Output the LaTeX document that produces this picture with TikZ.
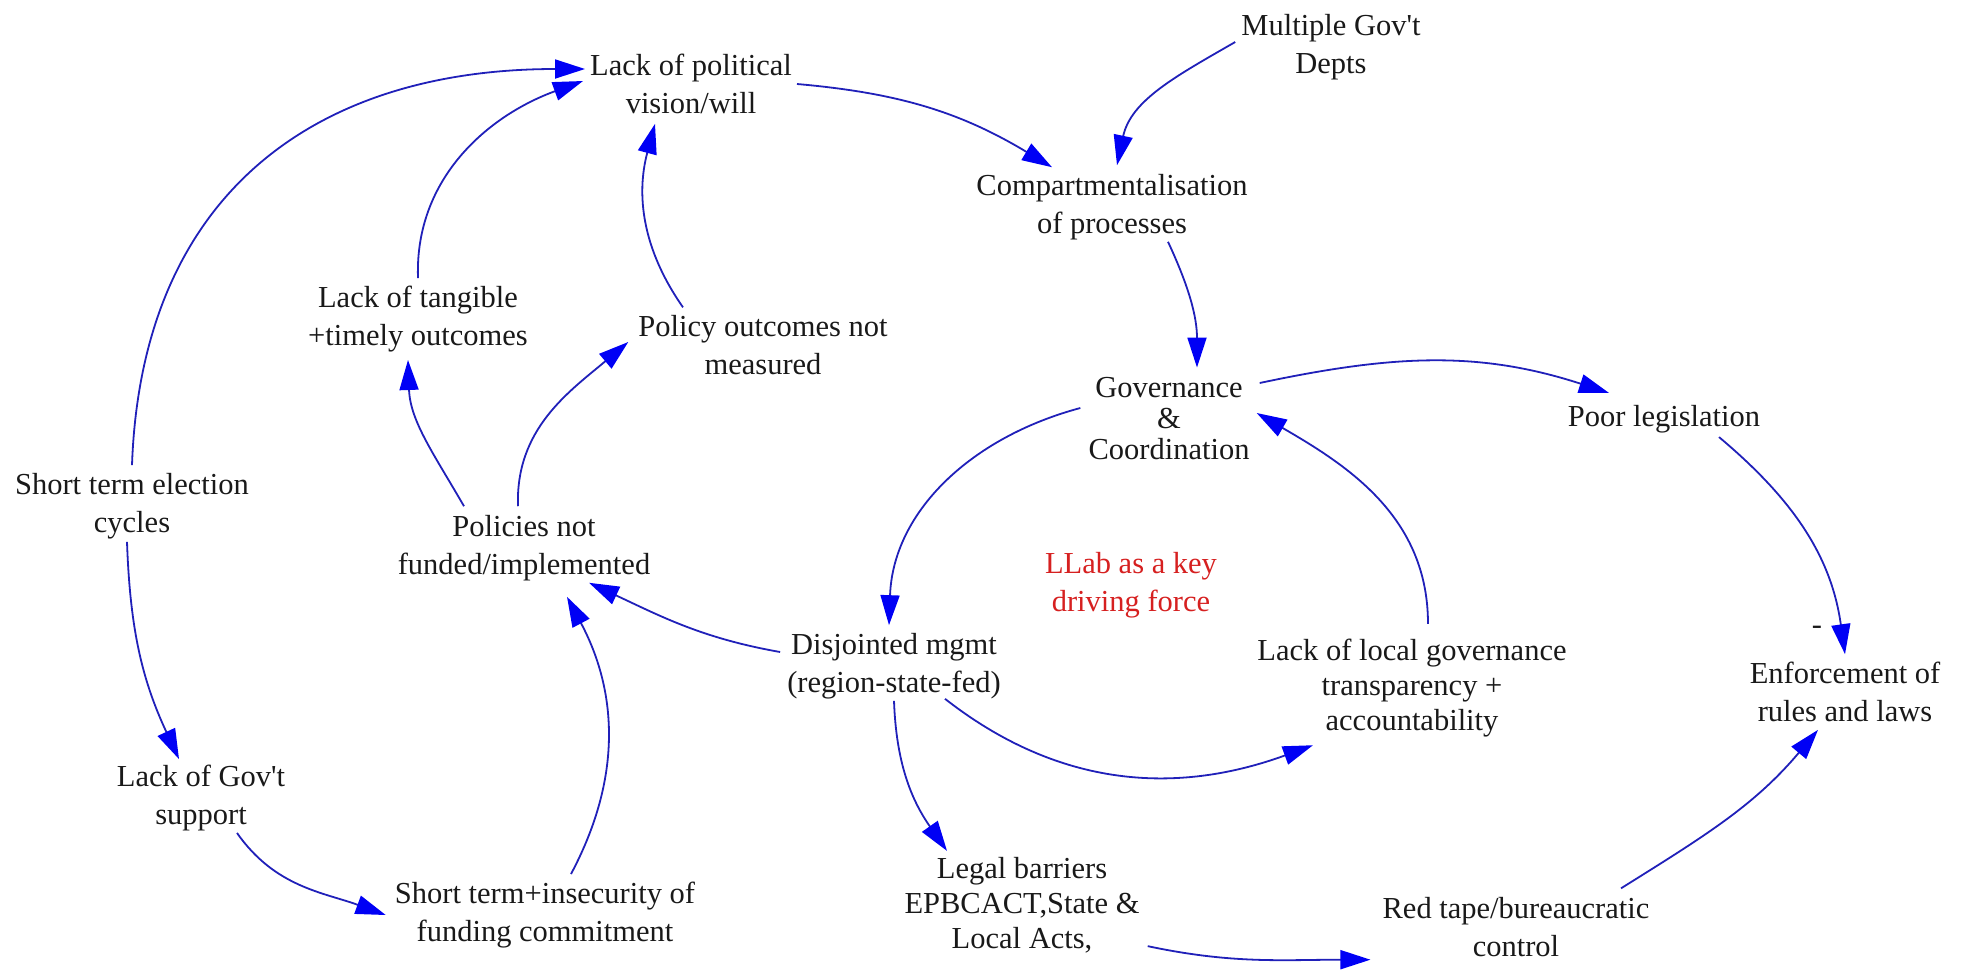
\documentclass[tikz,border=0pt]{standalone}
\usepackage{fontspec}
\setmainfont{Liberation Serif}[Ligatures=TeXOff]
\usetikzlibrary{arrows.meta}
\definecolor{linkblue}{RGB}{32,32,185}
\definecolor{tipblue}{RGB}{0,0,245}
\definecolor{notered}{RGB}{214,32,32}

\begin{document}
\begin{tikzpicture}[x=1pt, y=-1pt,
  lbl/.style={align=center, inner sep=0pt, text=black!90,
              font=\fontsize{30.5}{37.5}\selectfont},
  tight/.style={font=\fontsize{30.5}{31}\selectfont},
  mid/.style={font=\fontsize{30.5}{35}\selectfont},
  link/.style={draw=linkblue, line width=1.8pt,
               -{Triangle[length=30pt, width=19pt, color=tipblue]}}
]
\useasboundingbox (0,0) rectangle (1968,970);

% variables of the causal loop diagram
\node[lbl] (pol)    at (691, 84)   {Lack of political\\vision/will};
\node[lbl] (mult)   at (1331, 47)  {Multiple Gov't\\Depts};
\node[lbl] (comp)   at (1112, 207) {Compartmentalisation\\of processes};
\node[lbl] (tang)   at (418, 319)  {Lack of tangible\\+timely outcomes};
\node[lbl] (meas)   at (763, 345)  {Policy outcomes not\\measured};
\node[lbl, tight] (gov) at (1169, 419) {Governance\\\&\\Coordination};
\node[lbl] (poor)   at (1664, 419) {Poor legislation};
\node[lbl] (elect)  at (132, 506)  {Short term election\\cycles};
\node[lbl] (polnf)  at (524, 548)  {Policies not\\funded/implemented};
\node[lbl, text=notered] (llab) at (1131, 585) {LLab as a key\\driving force};
\node[lbl] (disj)   at (894, 666)  {Disjointed mgmt\\(region-state-fed)};
\node[lbl, mid] (local) at (1412, 688) {Lack of local governance\\transparency +\\accountability};
\node[lbl] (minus)  at (1817, 630) {-};
\node[lbl] (enf)    at (1845, 692) {Enforcement of\\rules and laws};
\node[lbl] (govsup) at (201, 798)  {Lack of Gov't\\support};
\node[lbl] (insec)  at (545, 915)  {Short term+insecurity of\\funding commitment};
\node[lbl, mid] (legal) at (1022, 905) {Legal barriers\\EPBCACT,State \&\\Local Acts,};
\node[lbl] (red)    at (1516, 927) {Red tape/bureaucratic\\control};

% causal links
\draw[link] ([yshift=8pt]elect.north) to[out=88, in=180, looseness=1.15]
            ([xshift=-5pt, yshift=15pt]pol.west);
\draw[link] ([yshift=8pt]tang.north) to[out=92, in=200]
            ([xshift=-7pt, yshift=3pt]pol.west);
\draw[link] ([xshift=-80pt, yshift=8pt]meas.north) to[out=125, in=255]
            ([xshift=-36pt, yshift=-10pt]pol.south);
\draw[link] ([xshift=5pt]pol.east) to[out=-5, in=149]
            ([xshift=-60pt, yshift=7pt]comp.north);
\draw[link] ([xshift=-6pt, yshift=5pt]mult.west) to[out=210, in=78]
            ([xshift=5pt, yshift=9pt]comp.north);
\draw[link] ([xshift=56pt, yshift=-2pt]comp.south) to[out=-65, in=90]
            ([xshift=28pt, yshift=10pt]gov.north);
\draw[link] ([xshift=10pt, yshift=36pt]gov.east) to[out=12, in=162]
            ([xshift=-55pt, yshift=12pt]poor.north);
\draw[link] ([xshift=-8pt, yshift=11pt]gov.west) to[out=195, in=88]
            ([xshift=-5pt, yshift=8pt]disj.north);
\draw[link] ([xshift=16pt, yshift=15pt]local.north) to[out=90, in=-30]
            ([xshift=7pt, yshift=6pt]gov.east);
\draw[link] ([xshift=55pt, yshift=-4pt]poor.south) to[out=-40, in=98]
            ([yshift=8pt]enf.north);
\draw[link] ([xshift=105pt, yshift=9pt]red.north) to[out=32, in=230]
            ([xshift=-27pt, yshift=-8pt]enf.south);
\draw[link] ([xshift=8pt, yshift=7pt]legal.south east) to[out=-12, in=180]
            ([xshift=-12pt, yshift=-3pt]red.south west);
\draw[link] ([xshift=-5pt, yshift=-3pt]elect.south) to[out=-88, in=115]
            ([xshift=-22pt, yshift=6pt]govsup.north);
\draw[link] ([xshift=36pt, yshift=-2pt]govsup.south) to[out=-55, in=160]
            ([xshift=-9pt]insec.west);
\draw[link] ([xshift=26pt, yshift=8pt]insec.north) to[out=62, in=-62]
            ([xshift=43pt, yshift=-16pt]polnf.south);
\draw[link] ([xshift=-7pt, yshift=14pt]disj.west) to[out=170, in=-25]
            ([xshift=65pt, yshift=-2pt]polnf.south);
\draw[link] ([xshift=51pt]disj.south) to[out=-38, in=200]
            ([xshift=-99pt, yshift=-8pt]local.south);
\draw[link] ([yshift=-2pt]disj.south) to[out=-88, in=125]
            ([xshift=-75pt, yshift=6pt]legal.north);
\draw[link] ([xshift=-60pt, yshift=9pt]polnf.north) to[out=120, in=-88]
            ([xshift=-10pt, yshift=-8pt]tang.south);
\draw[link] ([xshift=-6pt, yshift=9pt]polnf.north) to[out=92, in=220]
            ([xshift=-10pt, yshift=3pt]meas.west);
\end{tikzpicture}
\end{document}
